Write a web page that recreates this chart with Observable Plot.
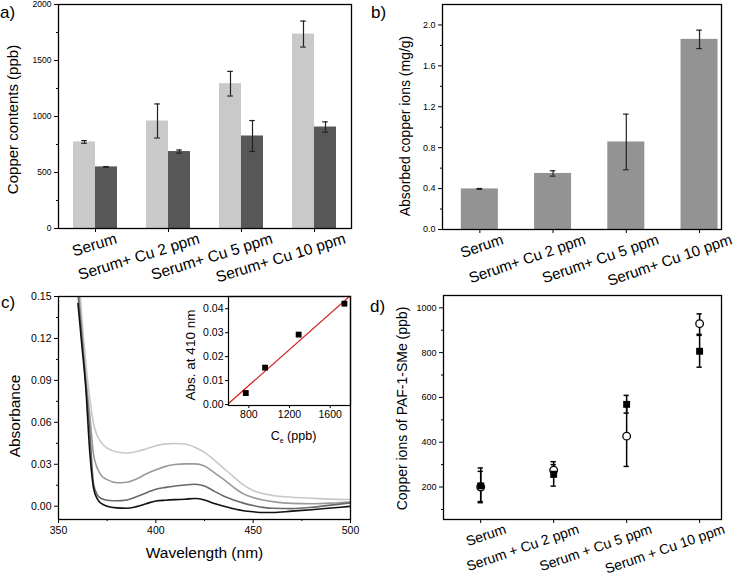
<!DOCTYPE html>
<html><head><meta charset="utf-8">
<script src="https://cdn.jsdelivr.net/npm/d3@7"></script>
<script src="https://cdn.jsdelivr.net/npm/@observablehq/plot@0.6"></script>
<style>
body{margin:0;background:#fff;}
#wrap{position:relative;width:737px;height:577px;overflow:hidden;font-family:"Liberation Sans",Arial,sans-serif;color:#000;}
#wrap svg{position:absolute;overflow:visible;}
.pl{position:absolute;font-size:17px;line-height:17px;}
</style></head>
<body><div id="wrap">
<div class="pl" style="left:0px;top:4px">a)</div>
<div class="pl" style="left:371px;top:4px">b)</div>
<div class="pl" style="left:1px;top:294px">c)</div>
<div class="pl" style="left:370px;top:298px">d)</div>
</div>
<script>
// ---------- data ----------
const categoriesAB = ["Serum", "Serum+ Cu 2 ppm", "Serum+ Cu 5 ppm", "Serum+ Cu 10 ppm"];
const categoriesD = ["Serum", "Serum + Cu 2 ppm", "Serum + Cu 5 ppm", "Serum + Cu 10 ppm"];
// panel a
const aLight = [773, 960, 1293, 1736];
const aLightErr = [12, 152, 110, 116];
const aDark = [550, 687, 826, 906];
const aDarkErr = [3, 14, 138, 46];
// panel b
const bAbsorbed = [0.397, 0.548, 0.856, 1.859];
const bErr = [0.004, 0.026, 0.272, 0.09];
// panel c
const wavelengths = [360, 362, 364, 366, 368, 370, 372, 375, 380, 385, 390, 395, 400, 405, 410, 415, 420, 425, 430, 435, 440, 445, 450, 455, 460, 470, 480, 490, 500];
const absLight = [0.175, 0.135, 0.103, 0.078, 0.059, 0.050, 0.0455, 0.0415, 0.0388, 0.0381, 0.0391, 0.041, 0.0432, 0.0446, 0.0449, 0.0445, 0.0422, 0.0385, 0.0330, 0.0270, 0.0210, 0.0152, 0.0112, 0.0090, 0.0077, 0.0064, 0.0057, 0.0051, 0.0048];
const absMid = [0.160, 0.125, 0.092, 0.066, 0.037, 0.027, 0.022, 0.019, 0.0168, 0.0172, 0.0195, 0.023, 0.026, 0.0285, 0.0298, 0.0303, 0.0303, 0.0288, 0.024, 0.019, 0.0135, 0.0088, 0.0062, 0.0045, 0.0033, 0.0020, 0.0018, 0.0022, 0.0030];
const absDark = [0.152, 0.120, 0.088, 0.055, 0.016, 0.008, 0.0055, 0.0043, 0.0039, 0.0045, 0.0068, 0.0095, 0.0122, 0.0135, 0.0145, 0.0152, 0.0157, 0.0145, 0.0108, 0.0072, 0.0045, 0.0022, 0.0005, -0.0008, -0.0015, -0.0017, -0.0008, 0.0008, 0.0024];
const absBlack = [0.145, 0.115, 0.085, 0.040, 0.013, 0.005, 0.002, 0.0, -0.0012, -0.0015, -0.0003, 0.0018, 0.0037, 0.0043, 0.0047, 0.005, 0.0055, 0.0045, 0.002, 0.0, -0.0018, -0.0032, -0.004, -0.0045, -0.0045, -0.0035, -0.0025, -0.0013, -0.0001];
// inset
const ceValues = [770, 960, 1290, 1740];
const abs410 = [0.0048, 0.0154, 0.0292, 0.0421];
const fitCe = [600, 1800];
const fitAbs = [0.0004, 0.0455];
// panel d
const dSquare = [205, 257, 569, 806];
const dSquareLo = [130, 204, 530, 735];
const dSquareHi = [285, 300, 609, 877];
const dCircle = [200, 275, 427, 929];
const dCircleLo = [135, 245, 292, 882];
const dCircleHi = [270, 313, 562, 973];

// ---------- helpers ----------
const FONT = '"Liberation Sans", Arial, sans-serif';
const wrap = document.getElementById("wrap");
const idx = [0, 1, 2, 3];
const fmtInt = d3.format("d");
function place(svg, left, top) {
  svg.style.left = left + "px";
  svg.style.top = top + "px";
  wrap.appendChild(svg);
  return svg;
}
const baseStyle = {background: "transparent", fontFamily: FONT, color: "#000", overflow: "visible"};
function yTitle(t, dx, dy, fs) {
  return Plot.text([t], {frameAnchor: "left", textAnchor: "middle", lineAnchor: "middle", rotate: -90, dx, dy, fontSize: fs});
}
function catLabels(data, rotate, dxFirst, dxRest, dy, fs) {
  const common = {x: "i", text: "cat", frameAnchor: "bottom", textAnchor: "end", lineAnchor: "top", rotate, dy, fontSize: fs};
  return [
    Plot.text(data.filter(d => d.i === 0), {...common, dx: dxFirst}),
    Plot.text(data.filter(d => d.i !== 0), {...common, dx: dxRest})
  ];
}

// ---------- panel a ----------
{
  const data = idx.map(i => ({i, cat: categoriesAB[i], light: aLight[i], le: aLightErr[i], dark: aDark[i], de: aDarkErr[i]}));
  const bw = 22 / 73, cap = 2.8 / 73;
  const svg = Plot.plot({
    width: 368, height: 290, marginLeft: 58, marginRight: 17, marginTop: 4, marginBottom: 62,
    style: baseStyle,
    x: {domain: [-0.507, 3.507]},
    y: {domain: [0, 2000]},
    marks: [
      Plot.rect(data, {x1: d => d.i - bw, x2: d => d.i, y1: 0, y2: "light", fill: "#c9c9c9"}),
      Plot.rect(data, {x1: d => d.i, x2: d => d.i + bw, y1: 0, y2: "dark", fill: "#575757"}),
      Plot.ruleX(data, {x: d => d.i - bw / 2, y1: d => d.light - d.le, y2: d => d.light + d.le, stroke: "#222", strokeWidth: 1.2}),
      Plot.ruleY(data, {y: d => d.light - d.le, x1: d => d.i - bw / 2 - cap, x2: d => d.i - bw / 2 + cap, stroke: "#222", strokeWidth: 1.2}),
      Plot.ruleY(data, {y: d => d.light + d.le, x1: d => d.i - bw / 2 - cap, x2: d => d.i - bw / 2 + cap, stroke: "#222", strokeWidth: 1.2}),
      Plot.ruleX(data, {x: d => d.i + bw / 2, y1: d => d.dark - d.de, y2: d => d.dark + d.de, stroke: "#222", strokeWidth: 1.2}),
      Plot.ruleY(data, {y: d => d.dark - d.de, x1: d => d.i + bw / 2 - cap, x2: d => d.i + bw / 2 + cap, stroke: "#222", strokeWidth: 1.2}),
      Plot.ruleY(data, {y: d => d.dark + d.de, x1: d => d.i + bw / 2 - cap, x2: d => d.i + bw / 2 + cap, stroke: "#222", strokeWidth: 1.2}),
      Plot.frame({stroke: "#000", strokeWidth: 1.3}),
      Plot.axisY([0, 500, 1000, 1500, 2000], {tickSize: 4, tickPadding: 3, fontSize: 8.5, tickFormat: fmtInt, label: null}),
      Plot.axisY([250, 750, 1250, 1750], {tickSize: 2, tickFormat: () => "", label: null}),
      Plot.axisX(idx, {tickSize: 4, tickFormat: () => "", label: null}),
      ...catLabels(data, -17, 19, 29, 4, 15.5),
      yTitle("Copper contents (ppb)", -45, 3, 15)
    ]
  });
  place(svg, 0, 0);
}

// ---------- panel b ----------
{
  const data = idx.map(i => ({i, cat: categoriesAB[i], v: bAbsorbed[i], e: bErr[i]}));
  const bw = 18.5 / 73.2, cap = 2.8 / 73.2;
  const svg = Plot.plot({
    width: 369, height: 290, marginLeft: 74, marginRight: 16, marginTop: 4, marginBottom: 61,
    style: baseStyle,
    x: {domain: [-0.51, 3.30]},
    y: {domain: [0, 2.2]},
    marks: [
      Plot.rect(data, {x1: d => d.i - bw, x2: d => d.i + bw, y1: 0, y2: "v", fill: "#939393"}),
      Plot.ruleX(data, {x: "i", y1: d => d.v - d.e, y2: d => d.v + d.e, stroke: "#222", strokeWidth: 1.2}),
      Plot.ruleY(data, {y: d => d.v - d.e, x1: d => d.i - cap, x2: d => d.i + cap, stroke: "#222", strokeWidth: 1.2}),
      Plot.ruleY(data, {y: d => d.v + d.e, x1: d => d.i - cap, x2: d => d.i + cap, stroke: "#222", strokeWidth: 1.2}),
      Plot.frame({stroke: "#000", strokeWidth: 1.3}),
      Plot.axisY([0, 0.4, 0.8, 1.2, 1.6, 2.0], {tickSize: 4, tickPadding: 3, fontSize: 9, tickFormat: d3.format(".1f"), label: null}),
      Plot.axisY([0.2, 0.6, 1.0, 1.4, 1.8], {tickSize: 2, tickFormat: () => "", label: null}),
      Plot.axisX(idx, {tickSize: 4, tickFormat: () => "", label: null}),
      ...catLabels(data, -19, 21, 30, 4, 15),
      yTitle("Absorbed copper ions (mg/g)", -37, 9, 14)
    ]
  });
  place(svg, 368, 0);
}

// ---------- panel c ----------
{
  const series = [
    {vals: absLight, color: "#c8c8c8"},
    {vals: absMid, color: "#9a9a9a"},
    {vals: absDark, color: "#686868"},
    {vals: absBlack, color: "#111111"}
  ];
  const svg = Plot.plot({
    width: 368, height: 287, marginLeft: 58, marginRight: 18, marginTop: 6, marginBottom: 58,
    style: baseStyle,
    x: {domain: [350, 500]},
    y: {domain: [-0.0095, 0.15]},
    marks: [
      ...series.map(s => Plot.line(wavelengths, {x: d => d, y: (d, i) => s.vals[i], stroke: s.color, strokeWidth: 1.6, curve: "monotone-x", clip: true})),
      Plot.frame({stroke: "#000", strokeWidth: 1.3}),
      Plot.axisY([0, 0.03, 0.06, 0.09, 0.12, 0.15], {tickSize: 4, tickPadding: 3, fontSize: 10.5, tickFormat: d3.format(".2f"), label: null}),
      Plot.axisY([0.015, 0.045, 0.075, 0.105, 0.135], {tickSize: 2, tickFormat: () => "", label: null}),
      Plot.axisX([350, 400, 450, 500], {tickSize: 4, tickPadding: 3, fontSize: 10.5, tickFormat: fmtInt, label: null}),
      Plot.axisX([375, 425, 475], {tickSize: 2, tickFormat: () => "", label: null}),
      yTitle("Absorbance", -43, 8, 15.5),
      Plot.text(["Wavelength (nm)"], {frameAnchor: "bottom", textAnchor: "middle", lineAnchor: "middle", dy: 34, fontSize: 15.5})
    ]
  });
  place(svg, 0, 290);
}

// ---------- inset ----------
{
  const pts = ceValues.map((c, i) => ({c, a: abs410[i]}));
  const fit = fitCe.map((c, i) => ({c, a: fitAbs[i]}));
  const svg = Plot.plot({
    width: 180, height: 170, marginLeft: 48, marginRight: 10, marginTop: 6, marginBottom: 55,
    style: baseStyle,
    x: {domain: [600, 1800]},
    y: {domain: [-0.0004, 0.0451]},
    marks: [
      Plot.line(fit, {x: "c", y: "a", stroke: "#d42020", strokeWidth: 1.3, clip: true}),
      Plot.dot(pts, {x: "c", y: "a", symbol: "square", fill: "#000", r: 3.3}),
      Plot.frame({stroke: "#000", strokeWidth: 1.2}),
      Plot.axisY([0, 0.01, 0.02, 0.03, 0.04], {tickSize: 3, tickPadding: 2, fontSize: 10.5, tickFormat: d3.format(".2f"), label: null}),
      Plot.axisX([800, 1200, 1600], {tickSize: 3, tickPadding: 2, fontSize: 10.5, tickFormat: fmtInt, label: null}),
      yTitle("Abs. at 410 nm", -38, 4, 13.5),
      Plot.text(["Ce (ppb)"], {frameAnchor: "bottom", textAnchor: "middle", lineAnchor: "middle", dx: 4, dy: 30, fontSize: 12.5})
    ]
  });
  d3.select(svg).selectAll("text").filter(function () { return this.textContent === "Ce (ppb)"; }).each(function () {
    const t = d3.select(this);
    t.text(null);
    t.append("tspan").text("C");
    t.append("tspan").attr("font-size", "7px").attr("dy", "3").text("e");
    t.append("tspan").attr("dy", "-3").text(" (ppb)");
  });
  place(svg, 180, 290);
}

// ---------- panel d ----------
{
  const data = idx.map(i => ({i, cat: categoriesD[i], sq: dSquare[i], sqLo: dSquareLo[i], sqHi: dSquareHi[i], ci: dCircle[i], ciLo: dCircleLo[i], ciHi: dCircleHi[i]}));
  const cap = 2.6 / 73;
  const svg = Plot.plot({
    width: 369, height: 287, marginLeft: 75, marginRight: 16, marginTop: 5, marginBottom: 58,
    style: baseStyle,
    x: {domain: [-0.51, 3.30]},
    y: {domain: [55, 1055]},
    marks: [
      Plot.ruleX(data, {x: "i", y1: "sqLo", y2: "sqHi", stroke: "#000", strokeWidth: 1.5}),
      Plot.ruleX(data, {x: "i", y1: "ciLo", y2: "ciHi", stroke: "#000", strokeWidth: 1.5}),
      Plot.ruleY(data, {y: "sqLo", x1: d => d.i - cap, x2: d => d.i + cap, stroke: "#000", strokeWidth: 1.5}),
      Plot.ruleY(data, {y: "sqHi", x1: d => d.i - cap, x2: d => d.i + cap, stroke: "#000", strokeWidth: 1.5}),
      Plot.ruleY(data, {y: "ciLo", x1: d => d.i - cap, x2: d => d.i + cap, stroke: "#000", strokeWidth: 1.5}),
      Plot.ruleY(data, {y: "ciHi", x1: d => d.i - cap, x2: d => d.i + cap, stroke: "#000", strokeWidth: 1.5}),
      Plot.dot(data, {x: "i", y: "ci", symbol: "circle", fill: "#fff", stroke: "#000", strokeWidth: 1.3, r: 3.8}),
      Plot.dot(data, {x: "i", y: "sq", symbol: "square", fill: "#000", r: 3.9}),
      Plot.frame({stroke: "#000", strokeWidth: 1.3}),
      Plot.axisY([200, 400, 600, 800, 1000], {tickSize: 4, tickPadding: 3, fontSize: 9, tickFormat: fmtInt, label: null}),
      Plot.axisY([100, 300, 500, 700, 900], {tickSize: 2, tickFormat: () => "", label: null}),
      Plot.axisX(idx, {tickSize: 4, tickFormat: () => "", label: null}),
      ...catLabels(data, -19, 23, 23, 4, 14),
      yTitle("Copper ions of PAF-1-SMe (ppb)", -41, 1, 14)
    ]
  });
  place(svg, 368, 290);
}
</script>
</body></html>
